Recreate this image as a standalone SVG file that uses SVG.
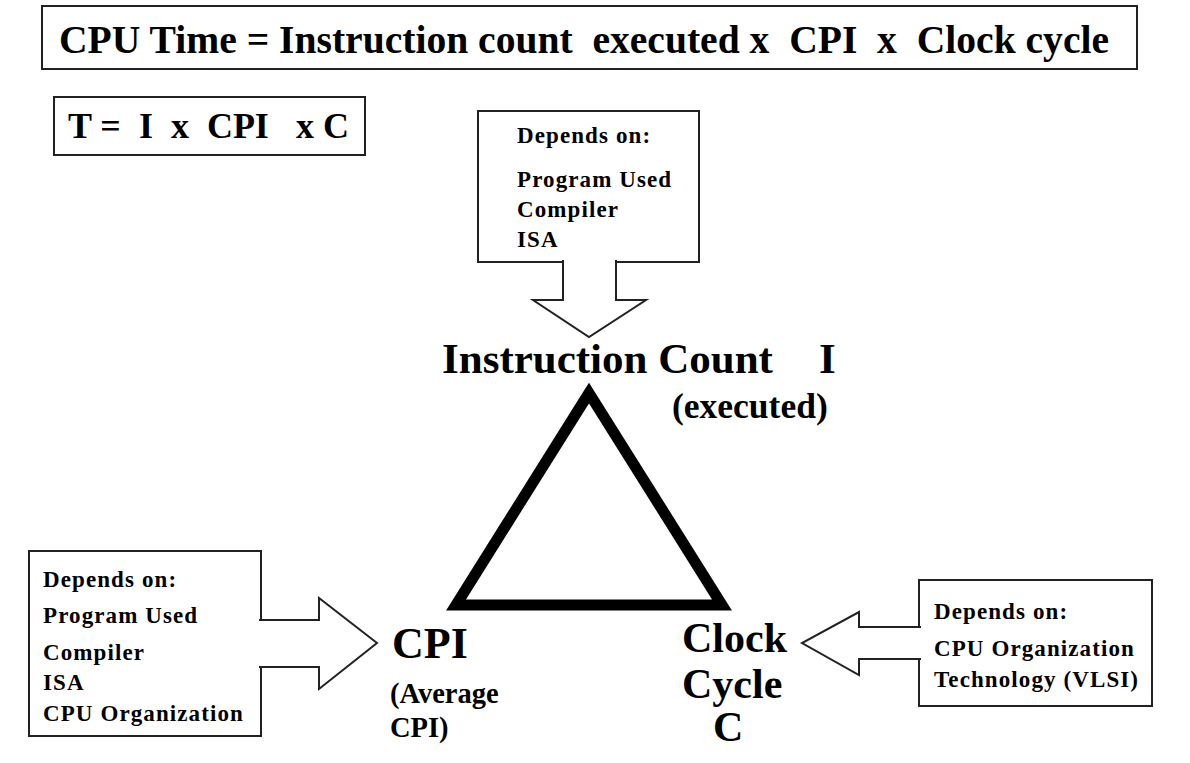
<svg xmlns="http://www.w3.org/2000/svg" width="1190" height="763" viewBox="0 0 1190 763">
<style>
  text { font-family: 'Liberation Serif', 'Times New Roman', serif; font-weight: 700; fill: #000; white-space: pre; }
  .box { fill: #fff; stroke: #222; stroke-width: 2; }
  .big { font-size: 39.6px; }
  .mid { font-size: 36px; }
  .lbl { font-size: 42px; }
  .sub { font-size: 28.5px; }
  .dep { font-size: 23px; letter-spacing: 1.1px; }
  .blk { fill: #fff; stroke: #222; stroke-width: 2; stroke-linejoin: miter; }
</style>
<rect width="1190" height="763" fill="#fff"/>

<g id="formula">
  <rect class="box" x="42" y="6" width="1095" height="63"/>
  <text class="big" x="59" y="53">CPU Time = Instruction count  executed x  CPI  x  Clock cycle</text>
</g>

<g id="formula-short">
  <rect class="box" x="54" y="97" width="311" height="58"/>
  <text class="mid" x="68" y="138">T =  I  x  CPI   x C</text>
</g>

<g id="triangle">
  <polygon points="589,393 456,605 722,605" fill="none" stroke="#000" stroke-width="11" stroke-linejoin="miter"/>
</g>

<g id="node-instruction-count">
  <text class="lbl" x="442" y="373" style="font-size:43px">Instruction Count</text>
  <text class="lbl" x="819" y="373" style="font-size:43px">I</text>
  <text class="mid" x="672" y="418" style="font-size:35.5px">(executed)</text>
</g>

<g id="node-cpi">
  <text class="lbl" x="392" y="658" style="font-size:44px">CPI</text>
  <text class="sub" x="390" y="703">(Average</text>
  <text class="sub" x="390" y="737">CPI)</text>
</g>

<g id="node-clock-cycle">
  <text class="lbl" x="682" y="652">Clock</text>
  <text class="lbl" x="682" y="698">Cycle</text>
  <text class="lbl" x="713" y="741">C</text>
</g>

<g id="callout-instruction-count">
  <rect class="box" x="478" y="111" width="221" height="151"/>
  <text class="dep" x="517" y="143">Depends on:</text>
  <text class="dep" x="517" y="187">Program Used</text>
  <text class="dep" x="517" y="217">Compiler</text>
  <text class="dep" x="517" y="247">ISA</text>
</g>

<g id="callout-cpi">
  <rect class="box" x="29" y="551" width="232" height="185"/>
  <text class="dep" x="43" y="587">Depends on:</text>
  <text class="dep" x="43" y="623">Program Used</text>
  <text class="dep" x="43" y="660">Compiler</text>
  <text class="dep" x="43" y="690">ISA</text>
  <text class="dep" x="43" y="721">CPU Organization</text>
</g>

<g id="callout-clock-cycle">
  <rect class="box" x="919" y="580" width="233" height="126"/>
  <text class="dep" x="934" y="619">Depends on:</text>
  <text class="dep" x="934" y="656">CPU Organization</text>
  <text class="dep" x="934" y="687">Technology (VLSI)</text>
</g>

<g id="connectors">
  <path class="blk" d="M563,260 V300 H533 L589,337 L646,300 H616 V260"/>
  <path class="blk" d="M259,620 H319 V598 L377,643 L319,689 V667 H259"/>
  <path class="blk" d="M921,627 H859 V612 L802,643 L859,675 V659 H921"/>
</g>
</svg>
